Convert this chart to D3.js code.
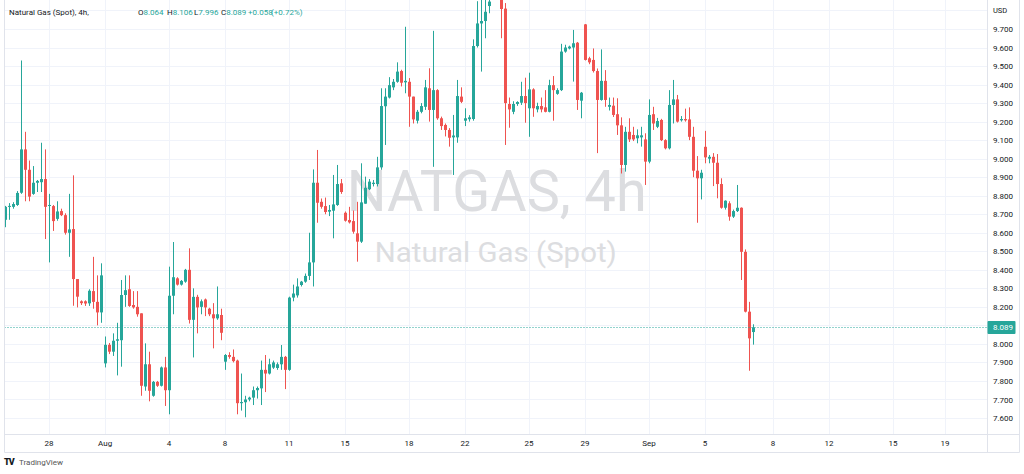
<!DOCTYPE html>
<html><head><meta charset="utf-8">
<script src="https://cdn.jsdelivr.net/npm/d3@7"></script>
<style>body{margin:0;background:#fff}svg{display:block}</style>
</head><body>
<svg id="c" width="1024" height="474"></svg>
<script>
// ---- data (4h candles, NATGAS) ----
const opens = [8.67,8.74,8.74,8.75,8.816,9.05,8.94,8.81,8.87,8.873,
 8.89,8.745,8.744,8.675,8.717,8.695,8.6,8.62,8.35,8.23,
 8.23,8.219,8.285,8.227,8.17,7.895,7.995,7.958,8.017,8.02,
 8.264,8.295,8.21,8.2,8.165,7.77,7.89,7.72,7.795,7.774,
 7.873,7.75,8.26,8.354,8.32,8.336,8.4,8.13,8.254,8.2,
 8.24,8.19,8.16,8.138,8.156,7.904,7.94,7.93,7.91,7.68,
 7.685,7.70,7.71,7.75,7.76,7.86,7.84,7.872,7.87,7.89,
 7.93,7.86,8.25,8.262,8.318,8.336,8.367,8.44,8.87,8.767,
 8.744,8.714,8.719,8.75,8.867,8.708,8.669,8.663,8.597,8.552,
 8.757,8.835,8.863,8.863,8.953,9.283,9.33,9.385,9.415,9.473,
 9.412,9.415,9.335,9.205,9.253,9.28,9.38,9.263,9.37,9.218,
 9.182,9.155,9.115,9.115,9.335,9.205,9.213,9.214,9.608,9.73,
 9.743,9.824,9.87,9.99,9.90,9.81,9.295,9.253,9.295,9.302,
 9.338,9.272,9.374,9.266,9.284,9.277,9.253,9.397,9.35,9.37,
 9.578,9.595,9.60,9.626,9.313,9.725,9.542,9.533,9.473,9.317,
 9.42,9.28,9.286,9.24,9.18,8.966,9.145,9.128,9.11,9.115,
 9.104,8.984,9.24,9.172,9.209,9.1,9.056,9.29,9.32,9.207,
 9.214,9.212,9.118,8.935,8.894,9.064,9.0,9.01,8.978,8.863,
 8.735,8.759,8.687,8.717,8.735,8.497,8.174,8.064];
const highs = [8.745,8.76,8.765,8.825,9.53,9.145,8.99,8.96,8.885,9.086,
 9.05,8.81,8.75,8.77,8.73,8.705,8.81,8.91,8.35,8.235,
 8.235,8.295,8.47,8.37,8.435,8.04,8.005,8.057,8.114,8.345,
 8.37,8.37,8.285,8.285,8.165,8.003,7.958,7.8,7.8,7.878,
 7.93,8.417,8.55,8.36,8.345,8.405,8.516,8.3,8.265,8.24,
 8.245,8.195,8.22,8.31,8.19,7.945,7.955,7.97,7.915,7.84,
 7.72,7.715,7.77,7.77,7.91,7.94,7.92,7.91,7.9,7.994,
 7.935,8.255,8.32,8.354,8.34,8.38,8.6,8.942,9.047,8.785,
 8.79,8.75,8.912,8.966,8.89,8.715,8.74,8.72,8.767,8.975,
 8.903,8.89,8.885,9.01,9.38,9.38,9.44,9.43,9.52,9.48,
 9.712,9.435,9.335,9.263,9.3,9.425,9.488,9.69,9.375,9.227,
 9.19,9.165,9.236,9.425,9.385,9.272,9.235,9.644,9.85,9.86,
 9.86,9.88,10.05,10.02,9.91,9.84,9.33,9.31,9.31,9.415,
 9.437,9.464,9.38,9.302,9.33,9.37,9.426,9.446,9.38,9.62,
 9.615,9.61,9.695,9.63,9.36,9.727,9.55,9.595,9.487,9.59,
 9.478,9.33,9.33,9.326,9.223,9.172,9.218,9.172,9.158,9.172,
 9.137,9.32,9.28,9.22,9.215,9.105,9.37,9.425,9.344,9.23,
 9.27,9.277,9.172,9.014,8.94,9.15,9.02,9.03,9.025,8.894,
 8.775,8.77,8.725,8.858,8.737,8.51,8.227,8.106];
const lows = [8.63,8.67,8.73,8.745,8.81,8.77,8.77,8.805,8.82,8.82,
 8.566,8.44,8.61,8.665,8.69,8.59,8.47,8.206,8.197,8.21,
 8.205,8.205,8.19,8.10,8.114,7.873,7.945,7.935,7.83,7.877,
 8.2,8.2,8.19,8.147,7.72,7.747,7.69,7.715,7.768,7.77,
 7.665,7.62,8.16,8.315,8.315,8.33,8.11,7.927,8.057,8.16,
 8.15,8.15,7.976,8.13,8.02,7.86,7.92,7.9,7.62,7.64,
 7.604,7.69,7.67,7.705,7.67,7.74,7.835,7.865,7.86,7.86,
 7.756,7.855,8.23,8.25,8.31,8.33,8.345,8.31,8.654,8.73,
 8.70,8.69,8.57,8.745,8.81,8.66,8.65,8.595,8.444,8.545,
 8.757,8.83,8.85,8.85,8.94,9.074,9.325,9.37,9.41,9.39,
 9.353,9.172,9.19,9.19,9.245,9.263,9.2,8.956,9.21,9.155,
 9.12,9.065,8.912,9.086,9.30,9.176,9.20,9.205,9.60,9.47,
 9.65,9.785,9.865,9.88,9.65,9.074,9.167,9.24,9.285,9.29,
 9.194,9.118,9.226,9.25,9.25,9.25,9.25,9.205,9.345,9.365,
 9.572,9.59,9.416,9.263,9.218,9.53,9.51,9.465,9.03,9.313,
 9.28,9.26,9.225,9.128,8.92,8.93,9.09,9.095,9.083,9.065,
 8.858,8.975,9.155,9.165,9.095,9.05,9.05,9.19,9.195,9.2,
 9.2,9.1,8.9,8.654,8.78,8.975,8.975,8.852,8.786,8.73,
 8.725,8.665,8.68,8.712,8.345,8.17,7.855,7.996];
const closes = [8.74,8.745,8.755,8.815,9.05,8.94,8.795,8.87,8.88,8.89,
 8.74,8.75,8.663,8.715,8.695,8.6,8.618,8.35,8.255,8.22,
 8.218,8.287,8.227,8.17,8.37,7.995,7.958,8.017,8.025,8.264,
 8.29,8.205,8.197,8.16,7.774,7.89,7.747,7.795,7.774,7.873,
 7.75,8.26,8.36,8.32,8.34,8.4,8.13,8.254,8.197,8.23,
 8.197,8.16,8.138,8.16,8.06,7.94,7.93,7.907,7.68,7.686,
 7.70,7.71,7.75,7.762,7.86,7.84,7.89,7.90,7.89,7.93,
 7.86,8.25,8.272,8.31,8.336,8.367,8.44,8.87,8.762,8.74,
 8.712,8.723,8.753,8.863,8.82,8.665,8.656,8.606,8.552,8.764,
 8.843,8.876,8.87,8.953,9.284,9.335,9.397,9.415,9.47,9.41,
 9.42,9.335,9.212,9.253,9.284,9.385,9.263,9.37,9.218,9.176,
 9.155,9.113,9.125,9.338,9.307,9.218,9.223,9.608,9.73,9.743,
 9.793,9.848,9.99,9.92,9.808,9.30,9.266,9.295,9.306,9.338,
 9.30,9.374,9.272,9.284,9.266,9.253,9.397,9.37,9.37,9.578,
 9.60,9.605,9.623,9.317,9.356,9.533,9.52,9.473,9.317,9.42,
 9.317,9.29,9.236,9.18,8.966,9.145,9.104,9.104,9.126,9.126,
 8.984,9.236,9.19,9.203,9.1,9.056,9.29,9.32,9.2,9.214,
 9.207,9.118,8.935,8.894,8.924,9.007,9.01,8.978,8.863,8.735,
 8.773,8.687,8.717,8.735,8.497,8.174,8.03,8.089];

// time axis: bar index of each date label
const tickIndex  = [11,25,41,55,71,85,101,115,131,145,161,175,192,206,222,235];
const tickLabels = ["28","Aug","4","8","11","15","18","22","25","29","Sep","5","8","12","15","19"];
// price axis
const priceTicks = [7.6,7.7,7.8,7.9,8.0,8.1,8.2,8.3,8.4,8.5,8.6,8.7,8.8,8.9,9.0,9.1,9.2,9.3,9.4,9.5,9.6,9.7];
const gridPrices = [7.5,7.6,7.7,7.8,7.9,8.0,8.1,8.2,8.3,8.4,8.5,8.6,8.7,8.8,8.9,9.0,9.1,9.2,9.3,9.4,9.5,9.6,9.7,9.8];
const lastPrice = 8.089;
const header = {name:"Natural Gas (Spot), 4h,", o:"8.064", h:"8.106", l:"7.996", c:"8.089", chg:"+0.058", pct:"(+0.72%)"};

// ---- layout ----
const FONT = "Roboto, 'Liberation Sans', Arial, sans-serif";
const UP = "#26a69a", DOWN = "#ef5350", TXT = "#131722", GRID = "#f0f3fa", BORDER = "#e0e3eb";
const L = 4.5, R = 987.5, T = 0, B = 434.5, B2 = 452.5, RR = 1019.5;

const svg = d3.select("#c");
const x = d3.scaleLinear().domain([0, 245]).range([4.6, 984.6]);
const y = d3.scaleLinear().domain([7.6, 9.7]).range([418, 29]);

svg.append("rect").attr("width",1024).attr("height",474).attr("fill","#fff");

svg.append("defs").append("clipPath").attr("id","plot")
  .append("rect").attr("x",L).attr("y",T).attr("width",R-L).attr("height",B-T);

const plot = svg.append("g").attr("clip-path","url(#plot)");

// grid
plot.selectAll("line.hg").data(gridPrices).join("line").attr("class","hg")
  .attr("x1",L).attr("x2",R).attr("y1",d=>Math.round(y(d))+0.5).attr("y2",d=>Math.round(y(d))+0.5)
  .attr("stroke",GRID).attr("stroke-width",1);
plot.selectAll("line.vg").data(tickIndex).join("line").attr("class","vg")
  .attr("y1",T).attr("y2",B).attr("x1",d=>Math.round(x(d))+0.5).attr("x2",d=>Math.round(x(d))+0.5)
  .attr("stroke",GRID).attr("stroke-width",1);

// watermark
plot.append("text").attr("x",496.7).attr("y",210.7).attr("text-anchor","middle")
  .attr("font-family",FONT).attr("font-size",58).attr("fill","#dcdde0")
  .attr("textLength",300).attr("lengthAdjust","spacingAndGlyphs").text("NATGAS, 4h");
plot.append("text").attr("x",495.8).attr("y",261.7).attr("text-anchor","middle")
  .attr("font-family",FONT).attr("font-size",28).attr("fill","#dcdde0")
  .attr("textLength",242).attr("lengthAdjust","spacingAndGlyphs").text("Natural Gas (Spot)");

// candles
const bars = opens.map((o,i)=>({i, o, h:highs[i], l:lows[i], c:closes[i]}));
const cg = plot.append("g");
cg.selectAll("line.wick").data(bars).join("line").attr("class","wick")
  .attr("x1",d=>Math.round(x(d.i))+0.5).attr("x2",d=>Math.round(x(d.i))+0.5)
  .attr("y1",d=>y(Math.max(d.h,d.o,d.c))).attr("y2",d=>y(Math.min(d.l,d.o,d.c)))
  .attr("stroke",d=>d.c>=d.o?UP:DOWN).attr("stroke-width",1);
cg.selectAll("rect.body").data(bars).join("rect").attr("class","body")
  .attr("x",d=>Math.round(x(d.i))-1).attr("width",3)
  .attr("y",d=>y(Math.max(d.o,d.c)))
  .attr("height",d=>Math.max(1, Math.abs(y(d.o)-y(d.c))))
  .attr("fill",d=>d.c>=d.o?UP:DOWN);

// last price line
plot.append("line").attr("x1",L).attr("x2",R)
  .attr("y1",Math.round(y(lastPrice))+0.5).attr("y2",Math.round(y(lastPrice))+0.5)
  .attr("stroke",UP).attr("stroke-width",1).attr("stroke-dasharray","1,2");

// borders
const fr = svg.append("g").attr("stroke",BORDER).attr("stroke-width",1).attr("fill","none");
fr.append("line").attr("x1",L).attr("x2",L).attr("y1",0).attr("y2",B2);
fr.append("line").attr("x1",R).attr("x2",R).attr("y1",0).attr("y2",B2);
fr.append("line").attr("x1",L).attr("x2",RR).attr("y1",B).attr("y2",B);
fr.append("line").attr("x1",L).attr("x2",RR).attr("y1",B2).attr("y2",B2);
fr.append("line").attr("x1",RR).attr("x2",RR).attr("y1",0).attr("y2",B2);

// price axis
const yAxis = d3.axisRight(y).tickValues(priceTicks).tickFormat(d3.format(".3f")).tickSize(0).tickPadding(6);
const ya = svg.append("g").attr("transform",`translate(${R-0.5},0)`).call(yAxis);
ya.select(".domain").remove();
ya.selectAll("text").attr("font-family",FONT).attr("font-size",8).attr("fill",TXT);

svg.append("text").attr("x",993).attr("y",13).attr("font-family",FONT).attr("font-size",7.5)
  .attr("fill",TXT).text("USD");

// last price label
svg.append("rect").attr("x",R).attr("y",y(lastPrice)-6.5).attr("width",28).attr("height",13)
  .attr("fill",UP).attr("rx",1);
svg.append("text").attr("x",993).attr("y",y(lastPrice)+3).attr("font-family",FONT)
  .attr("font-size",8).attr("fill","#fff").text(d3.format(".3f")(lastPrice));

// time axis
const xAxis = d3.axisBottom(x).tickValues(tickIndex).tickFormat((d,i)=>tickLabels[i]).tickSize(0).tickPadding(6);
const xa = svg.append("g").attr("transform",`translate(0,${B})`).call(xAxis);
xa.select(".domain").remove();
xa.selectAll("text").attr("font-family",FONT).attr("font-size",8).attr("fill",TXT);

// header
const hd = svg.append("g").attr("font-family",FONT).attr("font-size",8);
hd.append("text").attr("x",9).attr("y",15).attr("fill",TXT).text(header.name);
const seg = [[138,"O",header.o],[167,"H",header.h],[194,"L",header.l],[221,"C",header.c]];
seg.forEach(([sx,k,v])=>{
  const t = hd.append("text").attr("x",sx).attr("y",15);
  t.append("tspan").attr("fill",TXT).text(k);
  t.append("tspan").attr("fill",UP).text(v);
});
hd.append("text").attr("x",248).attr("y",15).attr("fill",UP).text(header.chg);
hd.append("text").attr("x",271).attr("y",15).attr("fill",UP).text(header.pct);

// TradingView credit
svg.append("text").attr("x",4).attr("y",465).attr("font-family",FONT).attr("font-size",9)
  .attr("font-weight",900).attr("fill","#131722").attr("letter-spacing",-1).text("TV");
svg.append("text").attr("x",19).attr("y",465).attr("font-family",FONT).attr("font-size",8)
  .attr("fill","#555").text("TradingView");
</script>
</body></html>
